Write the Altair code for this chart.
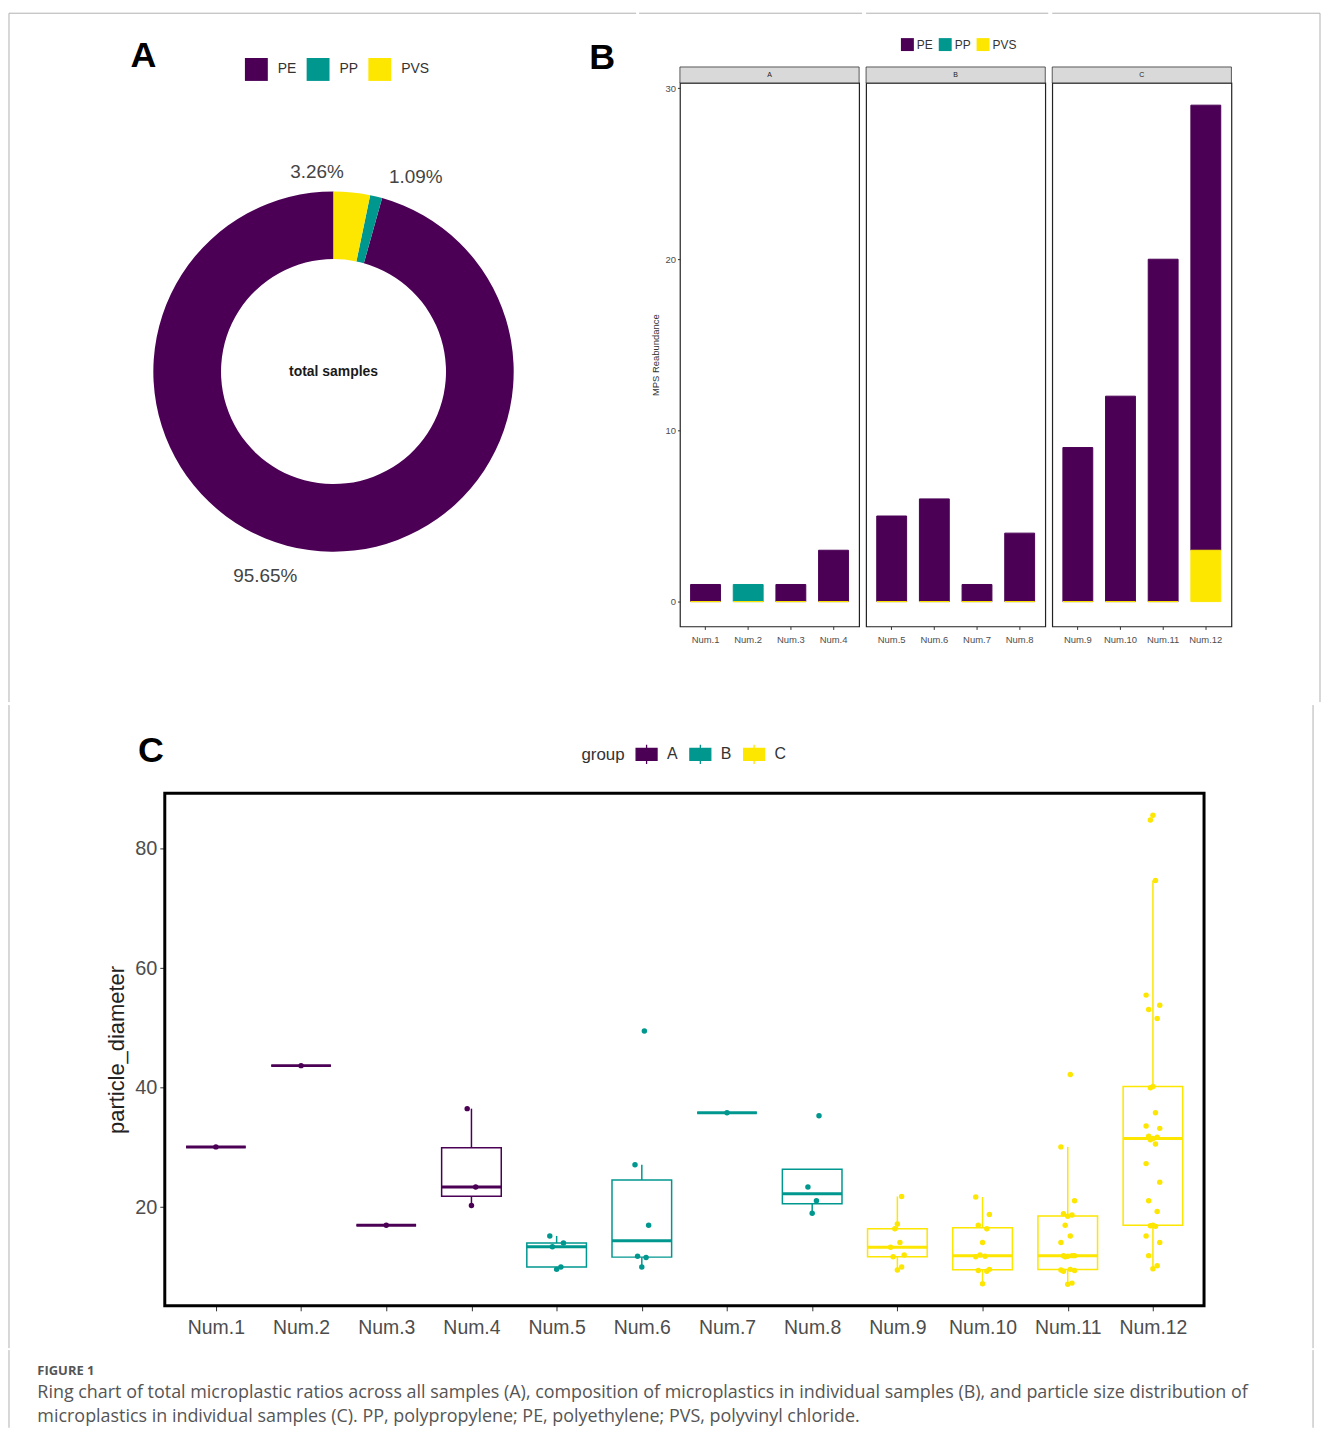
import altair as alt
import pandas as pd
import numpy as np

# ---------------- data ----------------
materials = ["PE", "PP", "PVS"]
material_colors = ["#4b0055", "#00978f", "#fde600"]
group_names = ["A", "B", "C"]
samples = ["Num.1", "Num.2", "Num.3", "Num.4", "Num.5", "Num.6",
           "Num.7", "Num.8", "Num.9", "Num.10", "Num.11", "Num.12"]
sample_groups = ["A", "A", "A", "A", "B", "B", "B", "B", "C", "C", "C", "C"]
pe_counts = [1, 0, 1, 3, 5, 6, 1, 4, 9, 12, 20, 26]
pp_counts = [0, 1, 0, 0, 0, 0, 0, 0, 0, 0, 0, 0]
pvs_counts = [0, 0, 0, 0, 0, 0, 0, 0, 0, 0, 0, 3]

diam_num1 = [30.1]
diam_num2 = [43.7]
diam_num3 = [17.0]
diam_num4 = [20.3, 23.4, 36.5]
diam_num5 = [9.6, 10.0, 13.4, 14.0, 15.2]
diam_num6 = [10.0, 11.6, 11.8, 17.0, 27.1, 49.5]
diam_num7 = [35.8]
diam_num8 = [19.0, 21.1, 23.4, 35.3]
diam_num9 = [9.5, 10.0, 11.7, 12.0, 13.3, 14.1, 16.4, 17.2, 21.8]
diam_num10 = [7.2, 9.3, 9.4, 9.6, 11.7, 11.8, 12.0, 14.1, 16.4, 17.0, 18.8, 21.7]
diam_num11 = [7.1, 7.3, 9.3, 9.4, 9.5, 9.6, 11.7, 11.8, 11.9, 11.9, 11.9, 14.1,
              15.2, 17.0, 18.5, 18.7, 18.9, 21.1, 30.1, 42.2]
diam_num12 = [9.7, 10.2, 11.9, 14.1, 15.2, 16.8, 16.9, 17.0, 19.3, 21.1, 24.2,
              27.3, 30.6, 31.3, 31.5, 31.7, 31.9, 33.2, 33.6, 35.8, 40.0, 40.2,
              51.6, 53.1, 53.8, 55.5, 74.7, 84.8, 85.6]
diam_lists = [diam_num1, diam_num2, diam_num3, diam_num4, diam_num5, diam_num6,
              diam_num7, diam_num8, diam_num9, diam_num10, diam_num11, diam_num12]
c_x_domain = [0.4, 12.6]
c_y_domain = [3.5, 89.3]
c_y_ticks = [20, 40, 60, 80]
b_y_domain = [-1.45, 30.3]
b_y_ticks = [0, 10, 20, 30]

caption_head = "FIGURE 1"
caption_line1 = ("Ring chart of total microplastic ratios across all samples (A), composition of "
                 "microplastics in individual samples (B), and particle size distribution of")
caption_line2 = ("microplastics in individual samples (C). PP, polypropylene; PE, polyethylene; "
                 "PVS, polyvinyl chloride.")

FONT = "Liberation Sans"
CAPFONT = "Open Sans"
FRAME = "#b0b0b0"
TOP = -70      # frame top line, relative to the first row's plot origins
BOT = 622      # frame bottom of first row


def note(text, x, y, **kw):
    return alt.Chart(pd.DataFrame({"t": [text]})).mark_text(**kw).encode(
        text="t:N", x=alt.value(x), y=alt.value(y))


def seg(x, y, x2, y2):
    return alt.Chart(pd.DataFrame({"k": [0]})).mark_rule(color=FRAME, strokeWidth=1).encode(
        x=alt.value(x), x2=alt.value(x2), y=alt.value(y), y2=alt.value(y2))


mat_scale = alt.Scale(domain=materials, range=material_colors)

# ---------------- panel A : ring ----------------
totals = [sum(pe_counts), sum(pp_counts), sum(pvs_counts)]
total = sum(totals)
ring_df = pd.DataFrame({
    "material": materials,
    "count": totals,
    "ord": [2, 1, 0],
    "pct": [f"{c / total * 100:.2f}%" for c in totals],
})
WA, HA = 630, 546
CX, CY = 326, 290
theta_scale = alt.Scale(domain=[0, total])
ring_base = alt.Chart(ring_df).transform_stack(
    stack="count", groupby=[], as_=["t0", "t1"],
    sort=[alt.SortField("ord", order="ascending")]
).transform_calculate(tm="(datum.t0 + datum.t1) / 2")

arc = ring_base.mark_arc(outerRadius=181, innerRadius=113).encode(
    theta=alt.Theta("t0:Q", stack=None, scale=theta_scale),
    theta2="t1:Q",
    color=alt.Color("material:N", scale=mat_scale, legend=alt.Legend(
        orient="none", legendX=237, legendY=-25, direction="horizontal", title=None,
        symbolType="square", symbolSize=529, symbolStrokeWidth=0,
        labelFontSize=14, labelColor="#333", labelOffset=10, columnPadding=10,
        padding=0, labelFont=FONT)),
    x=alt.value(CX), y=alt.value(CY),
)
nudges = {"PVS": (-38, 8), "PP": (33, 9), "PE": (-40, -3)}
ring_labels = [
    ring_base.transform_filter(alt.datum.material == m).mark_text(
        radius=210, dx=dx, dy=dy, fontSize=19, color="#444", font=FONT).encode(
        theta=alt.Theta("tm:Q", stack=None, scale=theta_scale),
        text="pct:N", x=alt.value(CX), y=alt.value(CY))
    for m, (dx, dy) in nudges.items()
]
center_txt = note("total samples", CX, CY, fontSize=14, fontWeight="bold",
                  color="#1a1a1a", font=FONT)
letter_a = note("A", 135, -27, fontSize=36, fontWeight="bold", color="black", font=FONT)
letter_b = note("B", 596, -25, fontSize=36, fontWeight="bold", color="black", font=FONT)

chart_a = alt.layer(
    seg(0, TOP, 0, BOT), seg(0, TOP, WA, TOP),
    arc, *ring_labels, center_txt, letter_a, letter_b
).properties(width=WA, height=HA)

# ---------------- panel B : stacked bars ----------------
rows = []
for i, s in enumerate(samples):
    for m, arr, o in (("PE", pe_counts, 2), ("PP", pp_counts, 1), ("PVS", pvs_counts, 0)):
        rows.append(dict(sample=s, group=sample_groups[i], material=m, n=arr[i], ord=o))
b_df = pd.DataFrame(rows)
b_df = b_df[(b_df.n > 0) | (b_df.material == "PVS")]

WB, HB = 180, 546


def b_panel(g, idx):
    d = b_df[b_df.group == g]
    order_s = [s for s, gg in zip(samples, sample_groups) if gg == g]
    if idx == 0:
        yaxis = alt.Axis(values=b_y_ticks, title="MPS Reabundance", titleFontSize=9.5,
                         titleFontWeight="normal", titleColor="#333", titlePadding=4,
                         labelFontSize=9.5, labelColor="#4d4d4d", tickSize=2.5,
                         tickColor="#333", domain=False, grid=False, labelPadding=2)
    else:
        yaxis = None
    if idx == 1:
        leg = alt.Legend(orient="none", legendX=35, legendY=-45, direction="horizontal",
                         title=None, symbolType="square", symbolSize=169, symbolStrokeWidth=0,
                         labelFontSize=12, labelColor="#333", labelOffset=3,
                         columnPadding=5, padding=0)
    else:
        leg = None
    bars = alt.Chart(d).mark_bar(strokeWidth=1).encode(
        x=alt.X("sample:N", sort=order_s, title=None,
                scale=alt.Scale(paddingInner=0.3, paddingOuter=0.25),
                axis=alt.Axis(labelAngle=0, labelFontSize=9.5, labelColor="#4d4d4d",
                              tickSize=3, tickColor="#333", domain=False, labelPadding=5,
                              grid=False)),
        y=alt.Y("n:Q", stack="zero",
                scale=alt.Scale(domain=b_y_domain, nice=False, zero=False), axis=yaxis),
        color=alt.Color("material:N", scale=mat_scale, legend=leg),
        stroke=alt.Stroke("material:N", scale=mat_scale, legend=None),
        order=alt.Order("ord:Q"),
    )
    strip = alt.Chart(pd.DataFrame({"t": [g]})).mark_rect(
        fill="#d9d9d9", stroke="#333", strokeWidth=0.8).encode(
        x=alt.value(0), x2=alt.value(WB), y=alt.value(-16), y2=alt.value(0))
    strip_t = note(g, WB / 2, -8, fontSize=7, color="#1a1a1a", font=FONT)
    layers = [bars, strip, strip_t]
    if idx == 0:
        layers.append(seg(-41, TOP, 183, TOP))
    elif idx == 1:
        layers.append(seg(0, TOP, 183, TOP))
    else:
        layers += [seg(0, TOP, 269, TOP), seg(269, TOP, 269, BOT)]
    return alt.layer(*layers).properties(
        width=WB, height=HB,
        view=alt.ViewBackground(stroke="#222", strokeWidth=1.2))


row1 = alt.hconcat(chart_a, *[b_panel(g, i) for i, g in enumerate(group_names)],
                   spacing=0).resolve_scale(color="independent", stroke="independent")

# ---------------- panel C : boxplots ----------------
jitter_pattern = [0.0, 0.05, -0.05, 0.08, -0.08, 0.03, -0.03]
pts, summ = [], []
for i, (s, g, vals) in enumerate(zip(samples, sample_groups, diam_lists)):
    for k, v in enumerate(vals):
        pts.append(dict(sample=s, group=g, idx=i + 1, d=v,
                        xj=i + 1 + jitter_pattern[k % len(jitter_pattern)]))
    q1, med, q3 = np.percentile(vals, [25, 50, 75])
    iqr = q3 - q1
    inside = [v for v in vals if q1 - 1.5 * iqr <= v <= q3 + 1.5 * iqr]
    summ.append(dict(sample=s, group=g, idx=i + 1, q1=q1, med=med, q3=q3,
                     wlo=min(min(inside), q1), whi=max(max(inside), q3),
                     x0=i + 1 - 0.35, x1=i + 1 + 0.35))
pts_df = pd.DataFrame(pts)
summ_df = pd.DataFrame(summ)
border_df = pd.DataFrame({"x0": [c_x_domain[0]], "x1": [c_x_domain[1]],
                          "y0": [c_y_domain[0]], "y1": [c_y_domain[1]]})

WC, HC = 1310, 646
XL, XR = 156.5, 1200.5      # pixel extent of the boxplot panel inside the cell
YT, YB = 88.5, 603.5
xsc = alt.Scale(domain=c_x_domain, range=[XL, XR], nice=False, zero=False)
ysc = alt.Scale(domain=c_y_domain, range=[YB, YT], nice=False, zero=False)
grp_scale = alt.Scale(domain=group_names, range=material_colors)
label_expr = "['" + "','".join(samples) + "'][datum.value - 1]"
xaxis_c = alt.Axis(values=list(range(1, 13)), labelExpr=label_expr, title=None, grid=False,
                   domain=False, tickSize=5, tickColor="#333", labelFontSize=19.5,
                   labelColor="#4d4d4d", labelPadding=8, offset=-(HC - YB))
yaxis_c = alt.Axis(values=c_y_ticks, title="particle_diameter", titleFontSize=22,
                   titleFontWeight="normal", titleColor="#222", titlePadding=6, grid=False,
                   domain=False, tickSize=5, tickColor="#333", labelFontSize=20,
                   labelColor="#4d4d4d", labelPadding=3, offset=-XL)
BOX_PATH = ("M-1,-0.57H1V0.57H-1Z M-1,0H1 M0,-0.57V-0.92 M0,0.57V0.92 "
            "M-0.08,-0.08H0.08V0.08H-0.08Z")
leg_c = alt.Legend(orient="none", legendX=575, legendY=38, direction="horizontal",
                   title="group", titleOrient="left", titleFontSize=17,
                   titleFontWeight="normal", titleColor="#333", titlePadding=10,
                   symbolType=BOX_PATH, symbolSize=441, symbolStrokeWidth=1.3,
                   labelFontSize=16, labelColor="#333", labelOffset=9, columnPadding=9,
                   padding=0)

box = alt.Chart(summ_df).mark_rect(fill="white", strokeWidth=1.5).encode(
    x=alt.X("x0:Q", scale=xsc, axis=xaxis_c), x2="x1:Q",
    y=alt.Y("q1:Q", scale=ysc, axis=yaxis_c), y2="q3:Q",
    stroke=alt.Stroke("group:N", scale=grp_scale, legend=leg_c))
wh_hi = alt.Chart(summ_df).mark_rule(strokeWidth=1.5).encode(
    x=alt.X("idx:Q", scale=xsc, axis=xaxis_c),
    y=alt.Y("q3:Q", scale=ysc, axis=yaxis_c), y2="whi:Q",
    color=alt.Color("group:N", scale=grp_scale, legend=None))
wh_lo = alt.Chart(summ_df).mark_rule(strokeWidth=1.5).encode(
    x=alt.X("idx:Q", scale=xsc, axis=xaxis_c),
    y=alt.Y("q1:Q", scale=ysc, axis=yaxis_c), y2="wlo:Q",
    color=alt.Color("group:N", scale=grp_scale, legend=None))
median = alt.Chart(summ_df).mark_rule(strokeWidth=3).encode(
    x=alt.X("x0:Q", scale=xsc, axis=xaxis_c), x2="x1:Q",
    y=alt.Y("med:Q", scale=ysc, axis=yaxis_c),
    color=alt.Color("group:N", scale=grp_scale, legend=None))
points = alt.Chart(pts_df).mark_circle(size=30, opacity=1).encode(
    x=alt.X("xj:Q", scale=xsc, axis=xaxis_c),
    y=alt.Y("d:Q", scale=ysc, axis=yaxis_c),
    color=alt.Color("group:N", scale=grp_scale, legend=None))
border = alt.Chart(border_df).mark_rect(filled=False, stroke="black", strokeWidth=3).encode(
    x=alt.X("x0:Q", scale=xsc, axis=xaxis_c), x2="x1:Q",
    y=alt.Y("y0:Q", scale=ysc, axis=yaxis_c), y2="y1:Q")
letter_c = note("C", 142.5, 46.5, fontSize=36, fontWeight="bold", color="black", font=FONT)

chart_c = alt.layer(
    box, wh_hi, wh_lo, median, points, border, letter_c,
    seg(0, 0, 0, HC), seg(WC, 0, WC, HC)
).properties(width=WC, height=HC)

# ---------------- caption ----------------
WCAP, HCAP = 1310, 78
chart_cap = alt.layer(
    seg(0, 0, 0, HCAP), seg(WCAP, 0, WCAP, HCAP),
    note(caption_head, 28.5, 20.5, fontSize=13, fontWeight="bold", color="#555",
         align="left", baseline="middle", font=CAPFONT),
    note(caption_line1, 28.5, 43.5, fontSize=18, color="#555", align="left",
         baseline="middle", font=CAPFONT),
    note(caption_line2, 28.5, 67.5, fontSize=18, color="#555", align="left",
         baseline="middle", font=CAPFONT),
).properties(width=WCAP, height=HCAP)

chart = alt.vconcat(row1, chart_c, chart_cap, spacing=0).resolve_scale(
    color="independent", stroke="independent"
).properties(padding=0).configure(font=FONT).configure_view(strokeWidth=0)

chart.save("out.html", embed_options={"renderer": "svg", "actions": False})
